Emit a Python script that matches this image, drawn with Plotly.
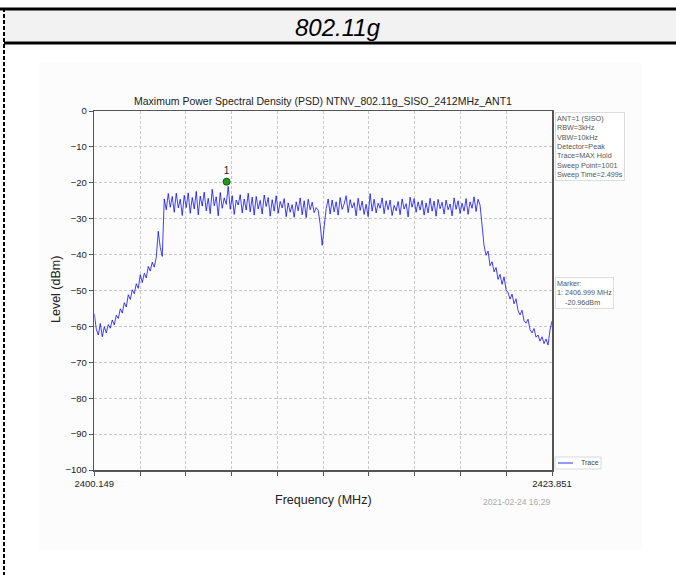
import numpy as np
import plotly.graph_objects as go

# ---------------- data ----------------
F_START = 2400.149
F_STOP = 2423.851
X_TICK_LABELS = ["2400.149", "", "", "", "", "", "", "", "", "", "2423.851"]
Y_TICKS = [0, -10, -20, -30, -40, -50, -60, -70, -80, -90, -100]

LEVELS = [
    -56.5, -60.8, -62.4, -59.2, -62.9, -60.1, -61.8, -59.5,
    -60.5, -58.2, -59.6, -56.9, -57.8, -55.1, -56.3, -53.4, -54.6, -51.2,
    -52.5, -49.8, -50.9, -48.1, -49.4, -45.6, -47.8, -45.2, -46.5, -43.3,
    -44.6, -42.1, -43.5, -40.8, -33.5, -38.0, -40.5, -24.5,
    -27.5, -23.0, -26.8, -23.8, -28.2, -22.9, -27.0, -24.6, -29.1, -23.5,
    -26.9, -22.8, -28.5, -24.1, -27.3, -22.4, -28.9, -23.7, -26.5, -22.6,
    -27.8, -24.3, -28.6, -21.8, -26.4, -23.9, -29.2, -22.7, -27.1, -24.2,
    -26.0, -21.0, -27.4, -23.6, -28.8, -24.8, -26.2, -23.3, -28.4, -24.5,
    -27.6, -22.9, -28.1, -24.0, -29.0, -23.8, -27.3, -24.9, -28.7, -23.4,
    -26.6, -24.1, -29.3, -24.7, -27.9, -23.6, -28.5, -25.2, -27.0, -24.4,
    -29.4, -25.6, -28.2, -26.1, -29.6, -25.3, -27.8, -24.2, -28.9, -25.0,
    -29.7, -24.6, -27.5, -25.4, -28.3, -26.9, -27.6, -31.5,
    -37.4, -33.0, -27.2, -24.5, -28.7, -24.8, -28.1, -25.3, -29.0, -24.1,
    -27.4, -25.9, -23.6, -28.3, -24.7, -27.0, -25.5, -29.2, -24.3, -27.7,
    -25.1, -28.8, -26.0, -29.4, -23.0, -27.9, -24.6, -28.4, -25.7, -27.1,
    -24.2, -28.6, -25.0, -27.5, -24.8, -29.1, -26.3, -27.8, -25.2, -28.9,
    -24.5, -27.3, -25.8, -29.5, -24.0, -26.8, -24.4, -28.2, -25.3, -27.6,
    -24.9, -29.0, -25.6, -28.4, -24.3, -27.9, -25.1, -29.3, -24.6, -27.2,
    -25.4, -28.7, -24.8, -27.5, -25.9, -29.2, -24.2, -27.4, -25.0, -28.5,
    -25.7, -27.9, -24.4, -28.8, -25.3, -27.1, -23.9, -28.0, -24.6, -26.2,
    -31.0, -37.5, -40.2, -39.0, -43.1, -42.0, -44.8, -43.6, -46.9, -45.5,
    -48.3, -46.2, -49.8, -50.6, -52.4, -51.0, -53.7, -52.3, -55.6, -56.8,
    -55.5, -58.4, -59.1, -58.0, -60.9, -61.8, -60.6, -63.0, -62.4, -64.1,
    -62.9, -64.8, -63.5, -65.2, -61.0, -58.5,
]

MARKER_FREQ = [2406.999]
MARKER_LEVEL = [-19.7]
MARKER_LABEL = ["1"]

TITLE = "Maximum Power Spectral Density (PSD) NTNV_802.11g_SISO_2412MHz_ANT1"
INFO_LINES = ["ANT=1 (SISO)", "RBW=3kHz", "VBW=10kHz", "Detector=Peak",
              "Trace=MAX Hold", "Sweep Point=1001", "Sweep Time=2.499s"]
MARKER_LINES = ["Marker:", "1: 2406.999 MHz", "\u00a0\u00a0\u00a0\u00a0-20.96dBm"]
TIMESTAMP = "2021-02-24 16:29"
HEADER = "802.11g"

# ---------------- layout helpers ----------------
W, H = 676, 575
FONT = "Liberation Sans, Arial, sans-serif"


def px(x):
    return x / W


def py(y):
    return 1 - y / H


freqs = np.linspace(F_START, F_STOP, len(LEVELS))
tickvals = np.linspace(F_START, F_STOP, len(X_TICK_LABELS))

fig = go.Figure()
fig.add_trace(go.Scatter(
    x=freqs, y=LEVELS, mode="lines", name="Trace",
    line=dict(color="rgba(0,0,255,0.75)", width=1), showlegend=False,
    hoverinfo="skip"))
fig.add_trace(go.Scatter(
    x=MARKER_FREQ, y=MARKER_LEVEL, mode="markers+text", text=MARKER_LABEL,
    textposition="top center", textfont=dict(size=10, color="#222", family=FONT),
    marker=dict(symbol="circle", size=7, color="#1f9a1f",
                line=dict(color="#0b5e0b", width=1)),
    showlegend=False, hoverinfo="skip"))

shapes = []
# chart image faint background
shapes.append(dict(type="rect", xref="paper", yref="paper",
                   x0=px(39), x1=px(642), y0=py(550), y1=py(62),
                   fillcolor="#fcfcfc", line=dict(width=0), layer="below"))
# table header
shapes.append(dict(type="rect", xref="paper", yref="paper",
                   x0=px(4), x1=px(676), y0=py(42), y1=py(10),
                   fillcolor="#f2f2f2", line=dict(width=0), layer="below"))
shapes.append(dict(type="line", xref="paper", yref="paper",
                   x0=0, x1=1, y0=py(9), y1=py(9),
                   line=dict(color="black", width=3)))
shapes.append(dict(type="line", xref="paper", yref="paper",
                   x0=px(4), x1=1, y0=py(43), y1=py(43),
                   line=dict(color="black", width=3)))
shapes.append(dict(type="line", xref="paper", yref="paper",
                   x0=px(4), x1=px(4), y0=py(8), y1=0,
                   line=dict(color="black", width=2, dash="4px,2px")))
# manual legend
shapes.append(dict(type="rect", xref="paper", yref="paper",
                   x0=px(555), x1=px(601), y0=py(469), y1=py(457),
                   fillcolor="white", line=dict(color="#d8d8d8", width=1)))
shapes.append(dict(type="line", xref="paper", yref="paper",
                   x0=px(558), x1=px(573), y0=py(463), y1=py(463),
                   line=dict(color="rgba(0,0,255,0.55)", width=1.5)))

annotations = []
annotations.append(dict(text=f"<i>{HEADER}</i>", x=px(338), y=py(27), xref="paper", yref="paper",
                        showarrow=False, font=dict(size=24, color="black", family=FONT),
                        xanchor="center", yanchor="middle"))
annotations.append(dict(text=TITLE, x=px(323), y=py(101), xref="paper", yref="paper",
                        showarrow=False, font=dict(size=10.5, color="#222", family=FONT),
                        xanchor="center", yanchor="middle"))
annotations.append(dict(text="Frequency (MHz)", x=px(323), y=py(500), xref="paper", yref="paper",
                        showarrow=False, font=dict(size=12.5, color="#222", family=FONT),
                        xanchor="center", yanchor="middle"))
annotations.append(dict(text="Level (dBm)", x=px(56), y=py(290), xref="paper", yref="paper",
                        showarrow=False, textangle=-90,
                        font=dict(size=12.5, color="#222", family=FONT),
                        xanchor="center", yanchor="middle"))
annotations.append(dict(text=TIMESTAMP, x=px(552), y=py(502), xref="paper", yref="paper",
                        showarrow=False, font=dict(size=8.5, color="#aaaaaa", family=FONT),
                        xanchor="right", yanchor="middle"))
annotations.append(dict(text="<br>".join(INFO_LINES), x=px(555), y=py(112), xref="paper", yref="paper",
                        showarrow=False, align="left", xanchor="left", yanchor="top",
                        font=dict(size=7.2, color="#555", family=FONT),
                        bgcolor="white", bordercolor="#dddddd", borderwidth=1, borderpad=1))
annotations.append(dict(text="<br>".join(MARKER_LINES), x=px(555), y=py(277), xref="paper", yref="paper",
                        showarrow=False, align="left", xanchor="left", yanchor="top",
                        font=dict(size=7.2, color="#555", family=FONT),
                        bgcolor="white", bordercolor="#dddddd", borderwidth=1, borderpad=1))
annotations.append(dict(text="Trace", x=px(579), y=py(463), xref="paper", yref="paper",
                        showarrow=False, xanchor="left", yanchor="middle",
                        font=dict(size=7, color="#444", family=FONT)))

axis_common = dict(showgrid=True, gridcolor="#c8c8c8", griddash="3px,2px", gridwidth=1,
                   showline=True, mirror=True, linecolor="#555", linewidth=1.5,
                   zeroline=False, ticks="outside", ticklen=4, tickcolor="#555",
                   automargin=False,
                   tickfont=dict(size=9.5, color="#222", family=FONT))

fig.update_layout(
    width=W, height=H, margin=dict(l=0, r=0, t=0, b=0, autoexpand=False),
    paper_bgcolor="white", plot_bgcolor="white",
    font=dict(family=FONT), hovermode=False,
    xaxis=dict(range=[F_START, F_STOP], domain=[0.1395, 0.8166],
               tickvals=tickvals, ticktext=X_TICK_LABELS, **axis_common),
    yaxis=dict(range=[-100, 0], domain=[py(470), py(111)],
               tickvals=Y_TICKS, **axis_common),
    shapes=shapes, annotations=annotations,
)

fig.write_html("out.html", config={"displayModeBar": False, "staticPlot": True},
               post_script="document.body.style.margin='0px';")
